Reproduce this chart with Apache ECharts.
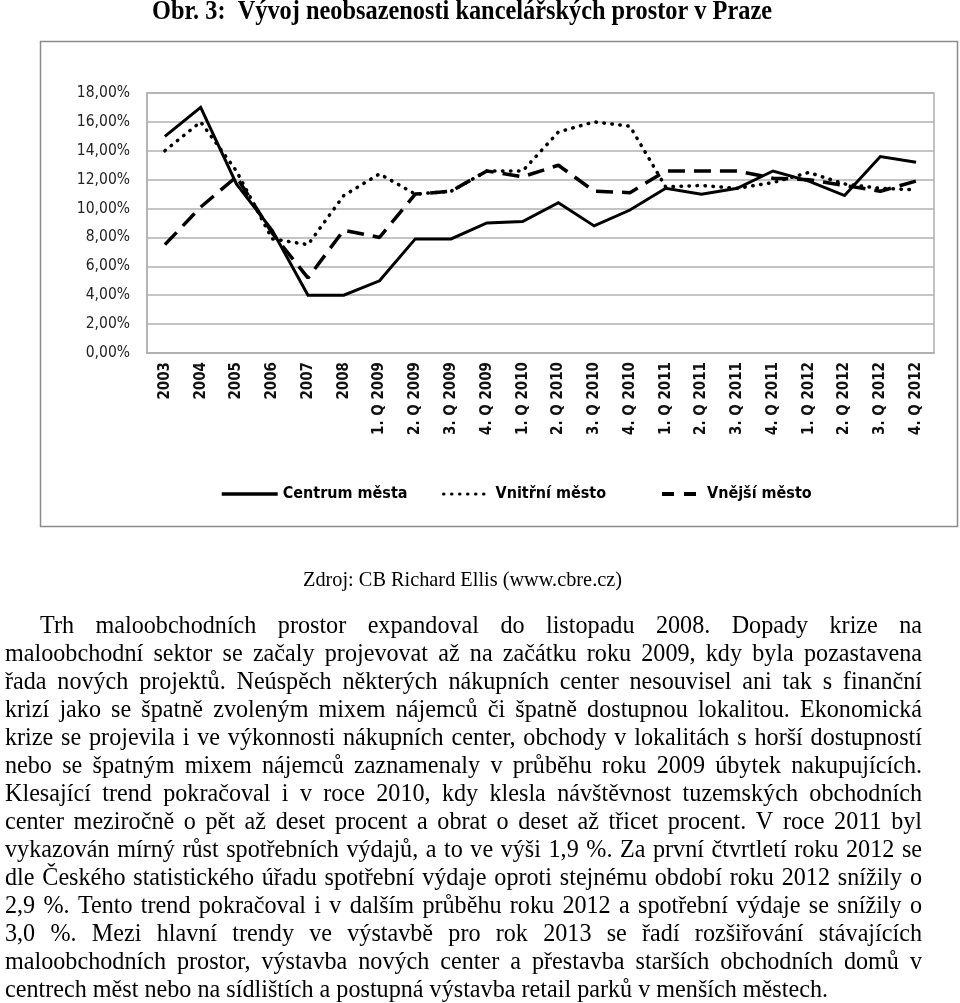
<!DOCTYPE html>
<html>
<head>
<meta charset="utf-8">
<script src="https://cdn.jsdelivr.net/npm/echarts@6/dist/echarts.min.js"></script>
<style>
html,body{margin:0;padding:0;background:#fff;}
#main{width:960px;height:1003px;}
</style>
</head>
<body>
<div id="main"></div>
<script>
// ---- data ----
const CATEGORIES = ['2003','2004','2005','2006','2007','2008',
  '1. Q 2009','2. Q 2009','3. Q 2009','4. Q 2009',
  '1. Q 2010','2. Q 2010','3. Q 2010','4. Q 2010',
  '1. Q 2011','2. Q 2011','3. Q 2011','4. Q 2011',
  '1. Q 2012','2. Q 2012','3. Q 2012','4. Q 2012'];
const CENTRUM = [15.0, 17.0, 11.7, 8.5, 4.0, 4.0, 5.0, 7.9, 7.9, 9.0, 9.1, 10.4, 8.8, 9.9, 11.4, 11.0, 11.4, 12.6, 11.9, 10.9, 13.6, 13.2];
const VNITRNI = [14.0, 16.0, 12.6, 7.9, 7.5, 10.9, 12.4, 11.0, 11.2, 12.6, 12.6, 15.3, 16.0, 15.7, 11.5, 11.6, 11.4, 11.8, 12.5, 11.7, 11.4, 11.3];
const VNEJSI = [7.5, 10.1, 12.2, 8.3, 5.2, 8.5, 8.0, 11.0, 11.2, 12.6, 12.2, 13.0, 11.2, 11.1, 12.6, 12.6, 12.6, 12.1, 12.0, 11.6, 11.2, 11.9];
const SERIES_NAMES = ['Centrum města', 'Vnitřní město', 'Vnější město'];
const Y_MIN = 0, Y_MAX = 18, Y_STEP = 2;

const TITLE = 'Obr. 3:  Vývoj neobsazenosti kancelářských prostor v Praze';
const SOURCE = 'Zdroj: CB Richard Ellis (www.cbre.cz)';
const BODY_LINES = [
  'Trh maloobchodních prostor expandoval do listopadu 2008. Dopady krize na',
  'maloobchodní sektor se začaly projevovat až na začátku roku 2009, kdy byla pozastavena',
  'řada nových projektů. Neúspěch některých nákupních center nesouvisel ani tak s finanční',
  'krizí jako se špatně zvoleným mixem nájemců či špatně dostupnou lokalitou. Ekonomická',
  'krize se projevila i ve výkonnosti nákupních center, obchody v lokalitách s horší dostupností',
  'nebo se špatným mixem nájemců zaznamenaly v průběhu roku 2009 úbytek nakupujících.',
  'Klesající trend pokračoval i v roce 2010, kdy klesla návštěvnost tuzemských obchodních',
  'center meziročně o pět až deset procent a obrat o deset až třicet procent. V roce 2011 byl',
  'vykazován mírný růst spotřebních výdajů, a to ve výši 1,9 %. Za první čtvrtletí roku 2012 se',
  'dle Českého statistického úřadu spotřební výdaje oproti stejnému období roku 2012 snížily o',
  '2,9 %. Tento trend pokračoval i v dalším průběhu roku 2012 a spotřební výdaje se snížily o',
  '3,0 %. Mezi hlavní trendy ve výstavbě pro rok 2013 se řadí rozšiřování stávajících',
  'maloobchodních prostor, výstavba nových center a přestavba starších obchodních domů v',
  'centrech měst nebo na sídlištích a postupná výstavba retail parků v menších městech.'
];

// ---- text layout helpers ----
const ctx = document.createElement('canvas').getContext('2d');
function measure(t, font){ ctx.font = font; return ctx.measureText(t).width; }

const graphics = [];
graphics.push({type:'rect', silent:true, shape:{x:40.5, y:41.5, width:917, height:485},
  style:{fill:'none', stroke:'#8a8a8a', lineWidth:1.5}});

function fitText(str, font, left, width, y){
  const s = width / measure(str, font);
  graphics.push({type:'text', x:left, y:y, scaleX:s, silent:true,
    style:{text:str, font:font, fill:'#000', textAlign:'left', textVerticalAlign:'middle', verticalAlign:'middle'}});
}
fitText(TITLE, 'bold 27px "Liberation Serif"', 152, 620, 12);
fitText(SOURCE, '22px "Liberation Serif"', 303, 319, 580);

const BODY_FONT = '25px "Liberation Serif"';
const lastLine = BODY_LINES[BODY_LINES.length-1];
const bodyScale = 823 / measure(lastLine, BODY_FONT);
const spaceW = measure(' ', BODY_FONT);
BODY_LINES.forEach((line, i) => {
  const y = 626 + i*28;
  const left = i === 0 ? 40 : 5;
  const right = 922;
  const words = line.split(' ');
  const widths = words.map(w => measure(w, BODY_FONT));
  const sumW = widths.reduce((a,b)=>a+b,0);
  let s = bodyScale;
  let gap;
  const isLast = i === BODY_LINES.length-1;
  if (isLast) {
    gap = spaceW*s;
  } else {
    gap = ((right-left) - sumW*s) / (words.length-1);
    if (gap < spaceW*s*0.6) {
      s = ((right-left) - spaceW*0.6*s*(words.length-1)) / sumW;
      gap = ((right-left) - sumW*s) / (words.length-1);
    }
  }
  let x = left;
  words.forEach((w, k) => {
    graphics.push({type:'text', x:x, y:y, scaleX:s, silent:true,
      style:{text:w, font:BODY_FONT, fill:'#000', textAlign:'left', textVerticalAlign:'middle', verticalAlign:'middle'}});
    x += widths[k]*s + gap;
  });
});

const legendText = {fontFamily:'DejaVu Sans Condensed', fontWeight:'bold', fontSize:16, color:'#000'};
const legendItemStyle = {opacity:0};

const chart = echarts.init(document.getElementById('main'), null, {renderer:'canvas'});
chart.setOption({
  backgroundColor:'#fff',
  animation:false,
  grid:{left:147, right:26, top:93, bottom:650, show:true, borderColor:'#b0b0b0', borderWidth:1.5, containLabel:false},
  xAxis:{type:'category', data:CATEGORIES, boundaryGap:true,
    axisLine:{show:true, lineStyle:{color:'#b0b0b0', width:1.5}},
    axisTick:{show:false},
    axisLabel:{rotate:90, margin:9, interval:0, fontFamily:'DejaVu Sans Condensed', fontWeight:'bold', fontSize:15, color:'#111'}
  },
  yAxis:{type:'value', min:Y_MIN, max:Y_MAX, interval:Y_STEP,
    axisLine:{show:true, lineStyle:{color:'#b0b0b0', width:1.5}},
    axisTick:{show:false},
    splitLine:{show:true, lineStyle:{color:'#b0b0b0', width:1.5}},
    axisLabel:{margin:17, fontFamily:'DejaVu Sans Condensed', fontSize:15.5, color:'#222',
      formatter:v => v.toFixed(2).replace('.', ',') + '%'}
  },
  legend:[
    {data:[SERIES_NAMES[0]], left:215, top:481, itemWidth:56, itemHeight:14, textStyle:legendText, itemStyle:legendItemStyle,
      lineStyle:{width:3.5, color:'#000'}},
    {data:[SERIES_NAMES[1]], left:437, top:481, itemWidth:47, itemHeight:14, textStyle:legendText, itemStyle:legendItemStyle,
      lineStyle:{width:3, color:'#000', type:[0.5,7.5], cap:'round'}},
    {data:[SERIES_NAMES[2]], left:655, top:481, itemWidth:40, itemHeight:14, textStyle:legendText, itemStyle:legendItemStyle,
      lineStyle:{width:4, color:'#000', type:[12,10]}}
  ],
  series:[
    {name:SERIES_NAMES[0], type:'line', data:CENTRUM, symbol:'none', showSymbol:false,
      lineStyle:{color:'#000', width:3, join:'miter'}, itemStyle:{color:'#000'}},
    {name:SERIES_NAMES[1], type:'line', data:VNITRNI, symbol:'none', showSymbol:false,
      lineStyle:{color:'#000', width:3.5, type:[0.5,7.5], cap:'round'}, itemStyle:{color:'#000'}},
    {name:SERIES_NAMES[2], type:'line', data:VNEJSI, symbol:'none', showSymbol:false,
      lineStyle:{color:'#000', width:3.5, type:[17,9]}, itemStyle:{color:'#000'}}
  ],
  graphic:graphics
});
</script>
</body>
</html>
